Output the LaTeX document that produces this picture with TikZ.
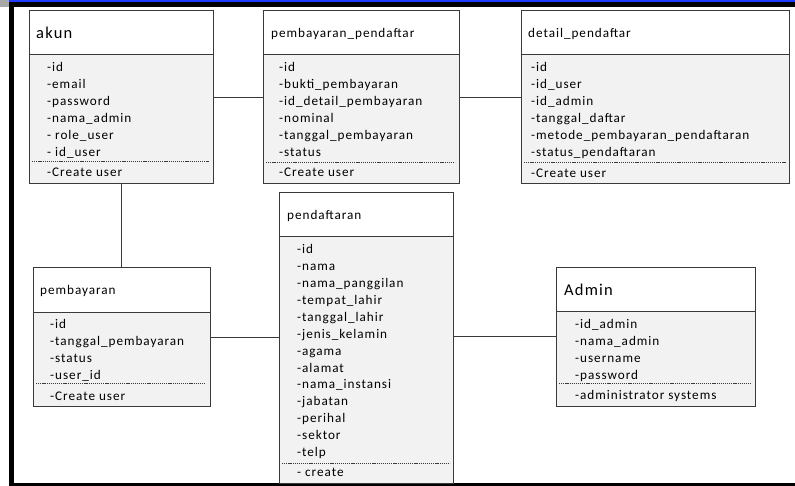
\documentclass[tikz,border=0pt]{standalone}
\usepackage{fontspec}
\setmainfont{Carlito}
\newfontfamily\attrfont[LetterSpace=7.3]{Carlito}
\definecolor{linec}{HTML}{3A3A3A}
\definecolor{bodyc}{HTML}{F2F2F2}
\definecolor{topblue}{HTML}{1E3CFF}
\definecolor{cornergray}{HTML}{A8A8A8}
\begin{document}
\begin{tikzpicture}[x=1pt,y=-1pt,
  box/.style={draw=linec, line width=0.9pt, fill=bodyc, rectangle, inner sep=0pt, anchor=north west},
  head/.style={draw=linec, line width=0.9pt, fill=white, rectangle, inner sep=0pt, anchor=north west},
  attr/.style={anchor=west, inner sep=0pt, font=\attrfont\fontsize{13.2}{15}\selectfont, text height=10pt, text depth=0.6pt},
  bigttl/.style={anchor=west, inner sep=0pt, font=\attrfont\fontsize{16.5}{18}\selectfont, text height=12.6pt, text depth=1pt},
  sep/.style={draw=linec, dash pattern=on 1.2pt off 0.9pt, line width=0.8pt},
  conn/.style={draw=linec, line width=0.9pt}]
\useasboundingbox (0,0) rectangle (795,486);
% frame
\fill[cornergray] (0,0) rectangle (9,7);
\fill[black] (9,2) rectangle (795,7);
\fill[topblue] (9,0) rectangle (795,2);
\fill[black] (9,7) rectangle (14,486);
\fill[black] (9,483) rectangle (795,486);

% ---------- akun
\node[box, minimum width=184, minimum height=173] (akun) at (29,10) {};
\node[head, minimum width=184, minimum height=44] (akunH) at (29,10) {};
\node[bigttl] (akunT) at (36,33) {akun};
\foreach \t [count=\i from 0] in {-id,-email,-password,-nama\_admin,- role\_user,- id\_user}
  \node[attr] (akunA\i) at (47,67+17*\i) {\t};
\draw[sep] (32,161) -- (209,161);
\node[attr] (akunM) at (47,172) {-Create user};

% ---------- pembayaran_pendaftar
\node[box, minimum width=196, minimum height=173] (pp) at (263,10) {};
\node[head, minimum width=196, minimum height=44] (ppH) at (263,10) {};
\node[attr] (ppT) at (271,33) {pembayaran\_pendaftar};
\foreach \t [count=\i from 0] in {-id,-bukti\_pembayaran,-id\_detail\_pembayaran,-nominal,-tanggal\_pembayaran,-status}
  \node[attr] (ppA\i) at (279,67+17*\i) {\t};
\draw[sep] (266,162) -- (455,162);
\node[attr] (ppM) at (279,172) {-Create user};

% ---------- detail_pendaftar
\node[box, minimum width=268, minimum height=173] (dp) at (521,10) {};
\node[head, minimum width=268, minimum height=44] (dpH) at (521,10) {};
\node[attr] (dpT) at (528,33) {detail\_pendaftar};
\foreach \t [count=\i from 0] in {-id,-id\_user,-id\_admin,-tanggal\_daftar,-metode\_pembayaran\_pendaftaran,-status\_pendaftaran}
  \node[attr] (dpA\i) at (531,67+17*\i) {\t};
\draw[sep] (524,162) -- (786,162);
\node[attr] (dpM) at (531,172.5) {-Create user};

% ---------- pendaftaran
\node[box, minimum width=174, minimum height=291] (pd) at (279,192) {};
\node[head, minimum width=174, minimum height=44] (pdH) at (279,192) {};
\node[attr] (pdT) at (287,215) {pendaftaran};
\foreach \t [count=\i from 0] in {-id,-nama,-nama\_panggilan,-tempat\_lahir,-tanggal\_lahir,-jenis\_kelamin,-agama,-alamat,-nama\_instansi,-jabatan,-perihal,-sektor,-telp}
  \node[attr] (pdA\i) at (297,249.3+16.87*\i) {\t};
\draw[sep] (282,463) -- (450,463);
\node[attr] (pdM) at (297,472) {- create};

% ---------- pembayaran
\node[box, minimum width=177, minimum height=139] (pb) at (33,267) {};
\node[head, minimum width=177, minimum height=45] (pbH) at (33,267) {};
\node[attr] (pbT) at (40,290) {pembayaran};
\foreach \t [count=\i from 0] in {-id,-tanggal\_pembayaran,-status,-user\_id}
  \node[attr] (pbA\i) at (50,324+17*\i) {\t};
\draw[sep] (36,383) -- (206,383);
\node[attr] (pbM) at (50,396) {-Create user};

% ---------- Admin
\node[box, minimum width=199, minimum height=139] (ad) at (556,267) {};
\node[head, minimum width=199, minimum height=44] (adH) at (556,267) {};
\node[bigttl] (adT) at (564,290) {Admin};
\foreach \t [count=\i from 0] in {-id\_admin,-nama\_admin,-username,-password}
  \node[attr] (adA\i) at (575,324+17*\i) {\t};
\draw[sep] (559,383) -- (751,383);
\node[attr] (adM) at (575,395) {-administrator systems};

% ---------- connectors
\coordinate (yA) at (0,97);
\coordinate (yB) at (0,337);
\coordinate (yC) at (0,336);
\draw[conn] (akun.east |- yA) -- (pp.west |- yA);
\draw[conn] (pp.east |- yA) -- (dp.west |- yA);
\draw[conn] (akun.south) -- (akun.south |- pb.north);
\draw[conn] (pb.east |- yB) -- (pd.west |- yB);
\draw[conn] (pd.east |- yC) -- (ad.west |- yC);
\end{tikzpicture}
\end{document}
